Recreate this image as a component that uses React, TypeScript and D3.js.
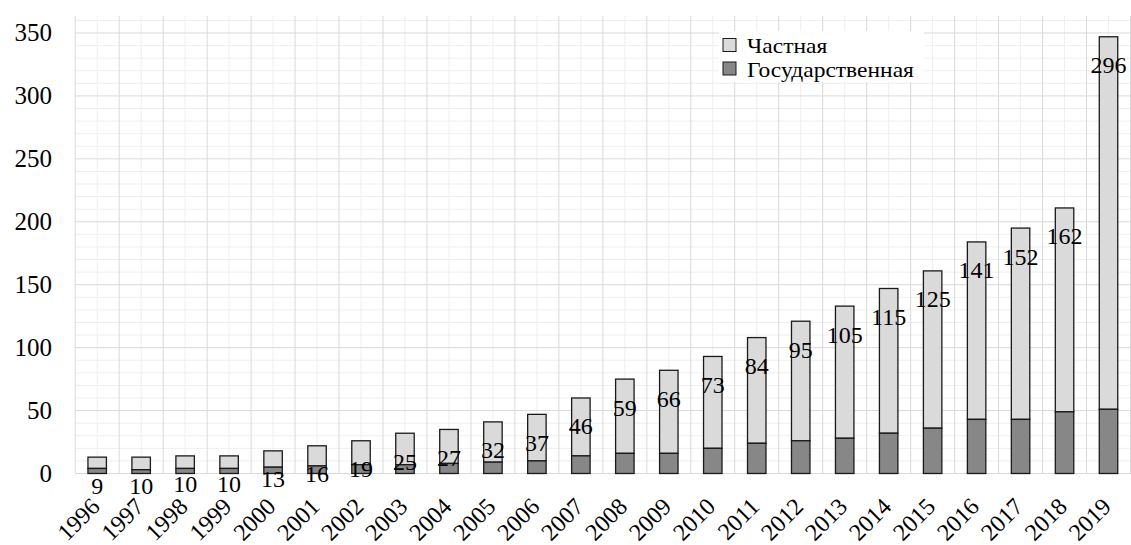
import React from "react";
import * as d3 from "d3";

const years = ["1996","1997","1998","1999","2000","2001","2002","2003","2004","2005","2006","2007","2008","2009","2010","2011","2012","2013","2014","2015","2016","2017","2018","2019"];
const privateVals = [9,10,10,10,13,16,19,25,27,32,37,46,59,66,73,84,95,105,115,125,141,152,162,296];
const stateVals = [4,3,4,4,5,6,7,7,8,9,10,14,16,16,20,24,26,28,32,36,43,43,49,51];
const majorTicks = [0,50,100,150,200,250,300,350];
const minorTicks = d3.range(0, 361, 10).filter(v => v % 50 !== 0);
const legendItems = [{ name: "Частная", fill: "#dadada" }, { name: "Государственная", fill: "#878787" }];

const W = 1131, H = 545;
const left = 75, right = 1131, top = 16, bottom = 473.5;

export default function App() {
  const x = d3.scaleBand().domain(years).range([left + 0.2, right - 0.5]).paddingInner(0.58).paddingOuter(0.29);
  const step = x.step();
  const y = d3.scaleLinear().domain([0, 350]).range([bottom, 33]);
  const font = "Liberation Serif, Tinos, Times New Roman, DejaVu Serif, serif";
  const boundaries = d3.range(years.length + 1).map(i => left + 0.2 + i * step);
  return (
    <svg width={W} height={H} style={{ position: "absolute", left: 0, top: 0, background: "#fff", fontFamily: font }}>
      {minorTicks.map(v => (
        <line key={"mh" + v} x1={left} x2={right} y1={y(v)} y2={y(v)} stroke="#efefef" strokeWidth={1} />
      ))}
      {years.map(yr => {
        const cx = (x(yr) as number) + x.bandwidth() / 2;
        return <line key={"mv" + yr} x1={cx} x2={cx} y1={top} y2={bottom} stroke="#efefef" strokeWidth={1} />;
      })}
      {majorTicks.map(v => (
        <line key={"h" + v} x1={left} x2={right} y1={y(v)} y2={y(v)} stroke="#d9d9d9" strokeWidth={1} />
      ))}
      {boundaries.map((bx, i) => (
        <line key={"v" + i} x1={bx} x2={bx} y1={top} y2={bottom} stroke="#d9d9d9" strokeWidth={1} />
      ))}
      {majorTicks.map(v => (
        <text key={"t" + v} x={52} y={y(v)} dy="0.33em" textAnchor="end" fontSize={25} fill="#000">{v}</text>
      ))}
      {years.map((yr, i) => {
        const bx = x(yr) as number;
        const total = privateVals[i] + stateVals[i];
        return (
          <g key={"b" + yr}>
            <rect x={bx} y={y(total)} width={x.bandwidth()} height={y(stateVals[i]) - y(total)} fill="#dadada" stroke="#1a1a1a" strokeWidth={1.3} />
            <rect x={bx} y={y(stateVals[i])} width={x.bandwidth()} height={y(0) - y(stateVals[i])} fill="#878787" stroke="#1a1a1a" strokeWidth={1.3} />
          </g>
        );
      })}
      {years.map((yr, i) => {
        const cx = (x(yr) as number) + x.bandwidth() / 2;
        const total = privateVals[i] + stateVals[i];
        return (
          <text key={"l" + yr} x={cx} y={y(total) + 36.5} textAnchor="middle" fontSize={24} fill="#000">{privateVals[i]}</text>
        );
      })}
      {years.map(yr => {
        const cx = (x(yr) as number) + x.bandwidth() / 2;
        return (
          <text key={"x" + yr} transform={`translate(${cx + 4},${508}) rotate(-45)`} textAnchor="end" fontSize={24} fill="#000">{yr}</text>
        );
      })}
      <rect x={719} y={31} width={205} height={51} fill="#fff" />
      {legendItems.map((it, i) => (
        <g key={it.name} transform={`translate(723,${38.5 + i * 23.5})`}>
          <rect x={0} y={0} width={13} height={13} fill={it.fill} stroke="#1a1a1a" strokeWidth={1} />
          <text transform="translate(24,14.5) scale(1.12,1)" fontSize={21} fill="#000">{it.name}</text>
        </g>
      ))}
    </svg>
  );
}
